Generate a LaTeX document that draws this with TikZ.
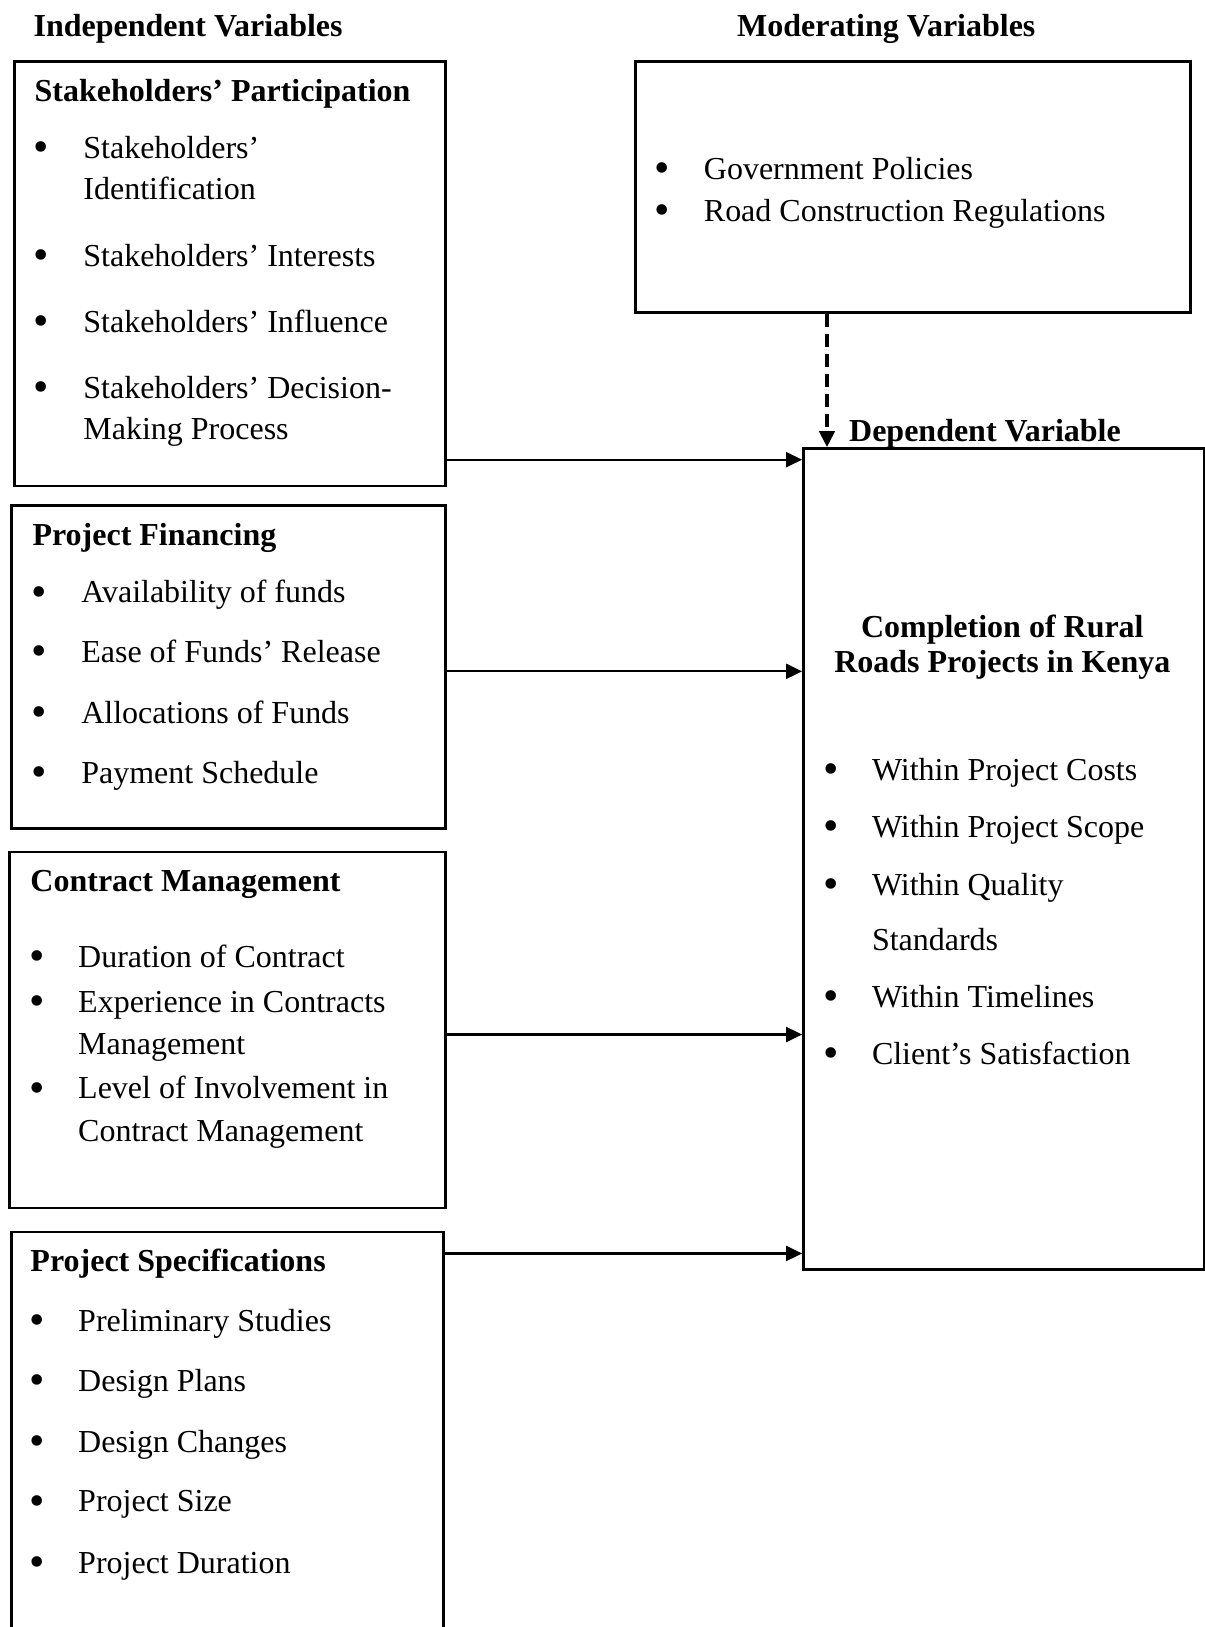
\documentclass[tikz,border=0pt]{standalone}
\usepackage{fontspec}
\setmainfont{Liberation Serif}
\usetikzlibrary{arrows.meta, positioning}
\newcommand{\px}{0.519pt}
\tikzset{
  box/.style={draw, line width=1.3pt, inner sep=0pt, anchor=north west},
  hdr/.style={anchor=base west, inner sep=0pt, font=\fontsize{16}{20}\selectfont\bfseries},
  itm/.style={anchor=base west, inner sep=0pt, font=\fontsize{16}{20}\selectfont},
  bul/.style={anchor=base, inner sep=0pt, yshift=-1.6pt, text height=8pt, text depth=0pt,
    font=\fontsize{22}{22}\selectfont},
  arr/.style={-{Triangle[length=8pt, width=7.5pt]}, line width=1.1pt},
  modarr/.style={-{Triangle[length=8pt, width=7.5pt]}, line width=2pt, dash pattern=on 6.5pt off 3.5pt}
}
\begin{document}
\begin{tikzpicture}[x=0.519pt, y={(0pt,-0.519pt)}]
\useasboundingbox (0,0) rectangle (1161,1568);

% column headings
\node[hdr] (indep) at (32,35) {Independent Variables};
\node[hdr] (moder) at (710,35) {Moderating Variables};
\node[hdr] (depend) at (818,425) {Dependent Variable};

% boxes
\node[box, minimum width=415*\px, minimum height=409*\px] (sp) at (13,58) {};
\node[box, minimum width=418*\px, minimum height=311*\px] (pf) at (10,486) {};
\node[box, minimum width=420*\px, minimum height=343*\px] (cm) at (8,820) {};
\node[box, minimum width=416*\px, minimum height=400*\px] (ps) at (10,1186) {};
\node[box, minimum width=535*\px, minimum height=242*\px] (mv) at (611,58) {};
\node[box, minimum width=386*\px, minimum height=791*\px] (dv) at (773,431) {};

% stakeholders' participation
\node[hdr] (sptitle) at (33,98) {Stakeholders’ Participation};
\foreach \y in {153,257,320,384} \node[bul] at (40,\y) {\textbullet};
\foreach \y/\t [count=\i] in {153/Stakeholders’, 192/Identification,
    257/Stakeholders’ Interests, 320/Stakeholders’ Influence,
    384/Stakeholders’ Decision-, 424/Making Process}
  \node[itm] (sp\i) at (80,\y) {\t};

% project financing
\node[hdr] (pftitle) at (31,526) {Project Financing};
\foreach \y/\t [count=\i] in {581/Availability of funds, 638/Ease of Funds’ Release,
    697/Allocations of Funds, 755/Payment Schedule}
{
  \node[bul] at (38,\y) {\textbullet};
  \node[itm] (pf\i) at (78,\y) {\t};
}

% contract management
\node[hdr] (cmtitle) at (29,859) {Contract Management};
\foreach \y in {932,976,1059} \node[bul] at (36,\y) {\textbullet};
\foreach \y/\t [count=\i] in {932/Duration of Contract, 976/Experience in Contracts,
    1016/Management, 1059/Level of Involvement in, 1100/Contract Management}
  \node[itm] (cm\i) at (75,\y) {\t};

% project specifications
\node[hdr] (pstitle) at (29,1225) {Project Specifications};
\foreach \y/\t [count=\i] in {1283/Preliminary Studies, 1341/Design Plans,
    1400/Design Changes, 1457/Project Size, 1516/Project Duration}
{
  \node[bul] at (36,\y) {\textbullet};
  \node[itm] (ps\i) at (75,\y) {\t};
}

% moderating variables
\foreach \y/\t [count=\i] in {173/Government Policies, 213/Road Construction Regulations}
{
  \node[bul] at (638,\y) {\textbullet};
  \node[itm] (mv\i) at (678,\y) {\t};
}

% dependent variable
\node[hdr, anchor=base] (dvtitle1) at (966,614) {Completion of Rural};
\node[hdr, anchor=base] (dvtitle2) at (966,648) {Roads Projects in Kenya};
\foreach \y in {752,807,863,971,1026} \node[bul] at (801,\y) {\textbullet};
\foreach \y/\t [count=\i] in {752/Within Project Costs, 807/Within Project Scope,
    863/Within Quality, 916/Standards, 971/Within Timelines,
    1026/Client’s Satisfaction}
  \node[itm] (dv\i) at (840,\y) {\t};

% connectors
\draw[arr] (sp.east |- 0,443) -- (dv.west |- 0,443);
\draw[arr] (pf.east |- 0,647) -- (dv.west |- 0,647);
\draw[arr] (cm.east |- 0,997) -- (dv.west |- 0,997);
\draw[arr] (ps.east |- 0,1208) -- (dv.west |- 0,1208);
\draw[modarr] (mv.south -| 797,0) -- (dv.north -| 797,0);
\end{tikzpicture}
\end{document}
